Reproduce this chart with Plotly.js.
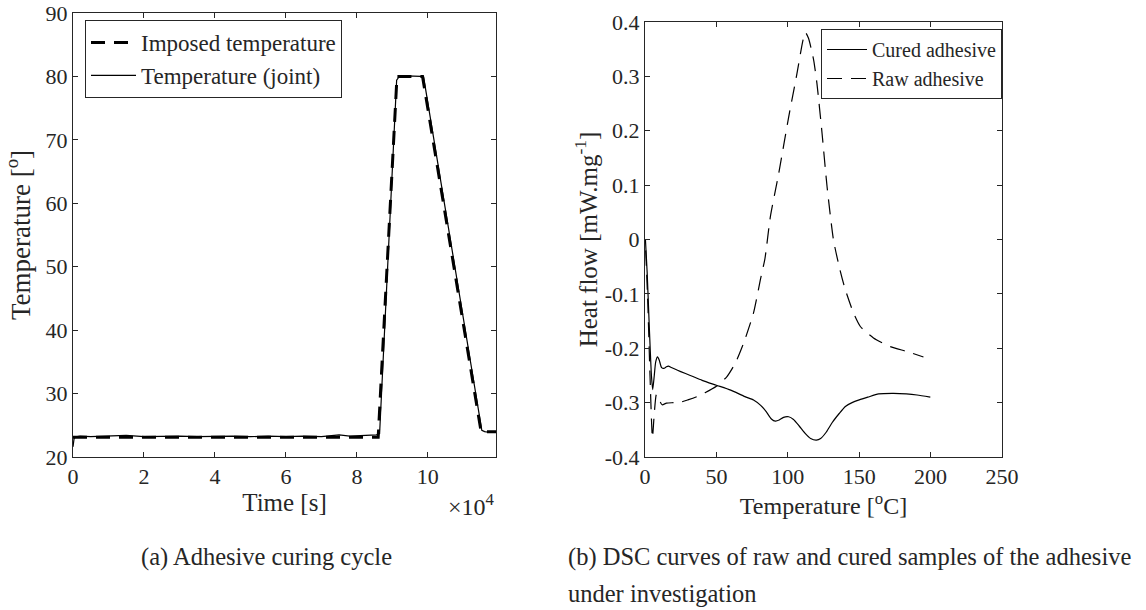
<!DOCTYPE html>
<html>
<head>
<meta charset="utf-8">
<script src="https://cdn.plot.ly/plotly-3.0.1.min.js"></script>
<style>html,body{margin:0;padding:0;background:#fff;}#chart{width:1146px;height:610px;}</style>
</head>
<body>
<div id="chart"></div>
<script>
// ---- Left panel: curing cycle (time in s, temperature in degrees) ----
const imposedTime = [0, 86000, 91300, 98500, 115000, 119200];
const imposedTemp = [23.1, 23.1, 80.0, 80.0, 24.0, 24.0];

const jointTime = [0, 300, 800, 2000, 5000, 10000, 15000, 20000, 25000, 30000, 35000, 40000, 45000, 50000, 55000, 60000, 65000, 70000, 75000, 78000, 82000, 85500, 86400, 91200, 91700, 92500, 94000, 96000, 98000, 98800, 115200, 116000, 117000, 119200];
const jointTemp = [21.6, 22.9, 23.2, 23.3, 23.2, 23.3, 23.4, 23.2, 23.3, 23.3, 23.2, 23.3, 23.3, 23.2, 23.3, 23.2, 23.3, 23.2, 23.5, 23.3, 23.4, 23.5, 23.7, 79.4, 79.8, 80.0, 80.1, 80.1, 80.0, 79.9, 24.2, 24.0, 23.9, 24.0];

const leftXTickVals = [0, 20000, 40000, 60000, 80000, 100000];
const leftXTickText = ['0', '2', '4', '6', '8', '10'];
const leftYTickVals = [20, 30, 40, 50, 60, 70, 80, 90];

// ---- Right panel: DSC curves (temperature in C, heat flow in mW/mg) ----
const curedT = [0.3, 1.5, 3, 4.5, 5.4, 6.5, 7.5, 8.8, 10, 11.5, 13.2, 15, 16.5, 18, 25, 31.7, 40, 50, 60, 70, 76, 81, 85, 88.5, 91.3, 94, 97, 100.6, 104, 108, 112, 116, 120, 123, 127, 131, 136, 140.3, 145, 150, 156, 163.6, 174, 183, 190.5, 199.8];
const curedHF = [0.0, -0.06, -0.16, -0.25, -0.276, -0.25, -0.225, -0.216, -0.222, -0.235, -0.237, -0.234, -0.233, -0.235, -0.243, -0.25, -0.259, -0.268, -0.277, -0.289, -0.295, -0.305, -0.317, -0.33, -0.334, -0.332, -0.327, -0.326, -0.331, -0.343, -0.356, -0.366, -0.369, -0.366, -0.354, -0.337, -0.32, -0.307, -0.3, -0.295, -0.29, -0.284, -0.283, -0.284, -0.286, -0.29];

const rawT = [0.5, 2, 3.5, 5.2, 6.5, 8, 10, 12, 15, 20, 25, 30, 36.4, 42, 50, 57.4, 63.3, 69, 76, 80.8, 84, 87.8, 93.6, 100.6, 106.4, 110.5, 112.3, 114.5, 118.1, 120.4, 124, 127.5, 132, 136, 140, 146, 150.8, 160, 171.8, 183.5, 195];
const rawHF = [-0.02, -0.12, -0.25, -0.365, -0.32, -0.285, -0.295, -0.304, -0.301, -0.3, -0.299, -0.295, -0.289, -0.282, -0.27, -0.252, -0.227, -0.191, -0.135, -0.074, -0.035, 0.042, 0.121, 0.225, 0.305, 0.365, 0.381, 0.37, 0.33, 0.287, 0.195, 0.097, -0.001, -0.05, -0.09, -0.135, -0.16, -0.181, -0.197, -0.206, -0.216];

const rightXTickVals = [0, 50, 100, 150, 200, 250];
const rightYTickVals = [-0.4, -0.3, -0.2, -0.1, 0, 0.1, 0.2, 0.3, 0.4];
const rightYTickText = ['-0.4', '-0.3', '-0.2', '-0.1', '0', '0.1', '0.2', '0.3', '0.4'];

const FONT = 'Liberation Serif, Times New Roman, serif';
const INK = '#262626';
const TICK_SIZE = 22, TITLE_SIZE = 25, CAPTION_SIZE = 24.5;

const traces = [
  {x: imposedTime, y: imposedTemp, name: 'Imposed temperature', mode: 'lines',
   line: {color: '#000', width: 3, dash: '14px,9px'}, xaxis: 'x', yaxis: 'y', legend: 'legend'},
  {x: jointTime, y: jointTemp, name: 'Temperature (joint)', mode: 'lines',
   line: {color: '#000', width: 1.2}, xaxis: 'x', yaxis: 'y', legend: 'legend'},
  {x: curedT, y: curedHF, name: 'Cured adhesive', mode: 'lines',
   line: {color: '#000', width: 1.2, shape: 'spline', smoothing: 0.6}, xaxis: 'x2', yaxis: 'y2', legend: 'legend2'},
  {x: rawT, y: rawHF, name: 'Raw adhesive', mode: 'lines',
   line: {color: '#000', width: 1.2, dash: '15px,9px', shape: 'spline', smoothing: 0.6}, xaxis: 'x2', yaxis: 'y2', legend: 'legend2'}
];

const axisCommon = {
  showgrid: false, zeroline: false, showline: true, linecolor: INK, linewidth: 1,
  mirror: 'ticks', ticks: 'inside', ticklen: 5, tickcolor: INK, tickwidth: 1,
  tickfont: {family: FONT, size: TICK_SIZE, color: INK}, automargin: false, fixedrange: true
};

const W = 1146, H = 610;
const layout = {
  width: W, height: H,
  margin: {l: 0, r: 0, t: 0, b: 0},
  paper_bgcolor: '#fff', plot_bgcolor: '#fff',
  font: {family: FONT, color: INK},
  showlegend: true,
  xaxis: Object.assign({}, axisCommon, {
    domain: [73 / W, 496 / W], range: [0, 119200], anchor: 'y',
    tickmode: 'array', tickvals: leftXTickVals, ticktext: leftXTickText,
    title: {text: 'Time [s]', font: {family: FONT, size: TITLE_SIZE, color: INK}, standoff: 2}
  }),
  yaxis: Object.assign({}, axisCommon, {
    domain: [1 - 457 / H, 1 - 13 / H], range: [20, 90], anchor: 'x',
    tickmode: 'array', tickvals: leftYTickVals,
    title: {text: 'Temperature [<sup>o</sup>]', font: {family: FONT, size: 27, color: INK}, standoff: 7}
  }),
  xaxis2: Object.assign({}, axisCommon, {
    domain: [645 / W, 1002 / W], range: [0, 250], anchor: 'y2',
    tickmode: 'array', tickvals: rightXTickVals,
    title: {text: 'Temperature [<sup>o</sup>C]', font: {family: FONT, size: 24, color: INK}, standoff: 2}
  }),
  yaxis2: Object.assign({}, axisCommon, {
    domain: [1 - 457 / H, 1 - 22 / H], range: [-0.4, 0.4], anchor: 'x2',
    tickmode: 'array', tickvals: rightYTickVals, ticktext: rightYTickText,
    title: {text: 'Heat flow [mW.mg<sup>-1</sup>]', font: {family: FONT, size: TITLE_SIZE, color: INK}, standoff: 0}
  }),
  legend: {
    x: 85 / W, y: 1 - 20 / H, xanchor: 'left', yanchor: 'top', xref: 'paper', yref: 'paper',
    bgcolor: '#fff', bordercolor: INK, borderwidth: 1, itemwidth: 45,
    font: {family: FONT, size: 23, color: INK}, tracegroupgap: 0
  },
  legend2: {
    x: 821 / W, y: 1 - 29 / H, xanchor: 'left', yanchor: 'top', xref: 'paper', yref: 'paper',
    bgcolor: '#fff', bordercolor: INK, borderwidth: 1, itemwidth: 40,
    font: {family: FONT, size: 20, color: INK}, tracegroupgap: 0
  },
  annotations: [
    {text: '\u00d710<sup>4</sup>', xref: 'paper', yref: 'paper', x: 497 / W, y: 1 - 505 / H,
     xanchor: 'right', yanchor: 'middle', showarrow: false, font: {family: FONT, size: 24, color: INK}},
    {text: '(a) Adhesive curing cycle', xref: 'paper', yref: 'paper', x: 266 / W, y: 1 - 557 / H,
     xanchor: 'center', yanchor: 'middle', showarrow: false, font: {family: FONT, size: CAPTION_SIZE, color: INK}},
    {text: '(b) DSC curves of raw and cured samples of the adhesive', xref: 'paper', yref: 'paper', x: 566 / W, y: 1 - 557 / H,
     xanchor: 'left', yanchor: 'middle', showarrow: false, font: {family: FONT, size: CAPTION_SIZE, color: INK}},
    {text: 'under investigation', xref: 'paper', yref: 'paper', x: 566 / W, y: 1 - 593 / H,
     xanchor: 'left', yanchor: 'middle', showarrow: false, font: {family: FONT, size: CAPTION_SIZE, color: INK}}
  ]
};

Plotly.newPlot('chart', traces, layout, {displayModeBar: false, staticPlot: true});
</script>
</body>
</html>
